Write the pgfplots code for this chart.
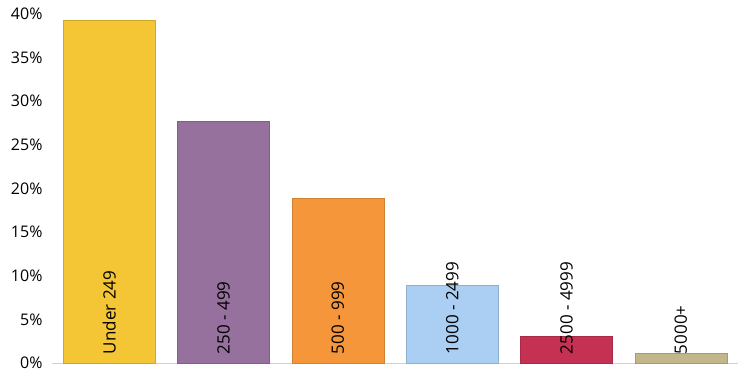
\documentclass[border=0pt]{standalone}
\usepackage{pgfplots}
\pgfplotsset{compat=1.18}
\usepackage{fontspec}
\setmainfont{Open Sans}
\definecolor{cA}{HTML}{F4C534}
\definecolor{cB}{HTML}{97719E}
\definecolor{cC}{HTML}{F5963A}
\definecolor{cD}{HTML}{ABCFF2}
\definecolor{cE}{HTML}{C53153}
\definecolor{cF}{HTML}{C4B68B}
\begin{document}
\begin{tikzpicture}[x=1pt,y=1pt]
\useasboundingbox (0,0) rectangle (746,375);
\begin{axis}[
  at={(52pt,12pt)}, anchor=south west,
  scale only axis, width=686pt, height=349pt,
  xmin=-0.5, xmax=5.5, ymin=0, ymax=40,
  clip=false,
  axis x line=bottom, axis y line*=left,
  x axis line style={draw=black!18, line width=1pt, -},
  y axis line style={draw=none},
  xtick=\empty,
  ytick={0,5,10,15,20,25,30,35,40},
  yticklabel={\pgfmathprintnumber{\tick}\%},
  /pgf/number format/assume math mode=true,
  yticklabel style={font=\fontsize{16}{16}\selectfont, anchor=east, xshift=-6pt},
  major tick length=0pt,
  ybar, bar width=92pt, bar shift=0pt,
]
\addplot[fill=cA, draw=cA!85!black] coordinates {(0,39.3)};
\addplot[fill=cB, draw=cB!85!black] coordinates {(1,27.7)};
\addplot[fill=cC, draw=cC!85!black] coordinates {(2,18.85)};
\addplot[fill=cD, draw=cD!85!black] coordinates {(3,8.95)};
\addplot[fill=cE, draw=cE!85!black] coordinates {(4,3.1)};
\addplot[fill=cF, draw=cF!85!black] coordinates {(5,1.15)};
\foreach \i/\t in {0/Under 249,1/250 - 499,2/500 - 999,3/1000 - 2499,4/2500 - 4999,5/5000+}{
  \edef\tmp{\noexpand\node[rotate=90, anchor=west, inner sep=0pt, font=\noexpand\fontsize{17}{17}\noexpand\selectfont] at (axis cs:\i,1.0) {\t};}
  \tmp
}
\end{axis}
\end{tikzpicture}
\end{document}
